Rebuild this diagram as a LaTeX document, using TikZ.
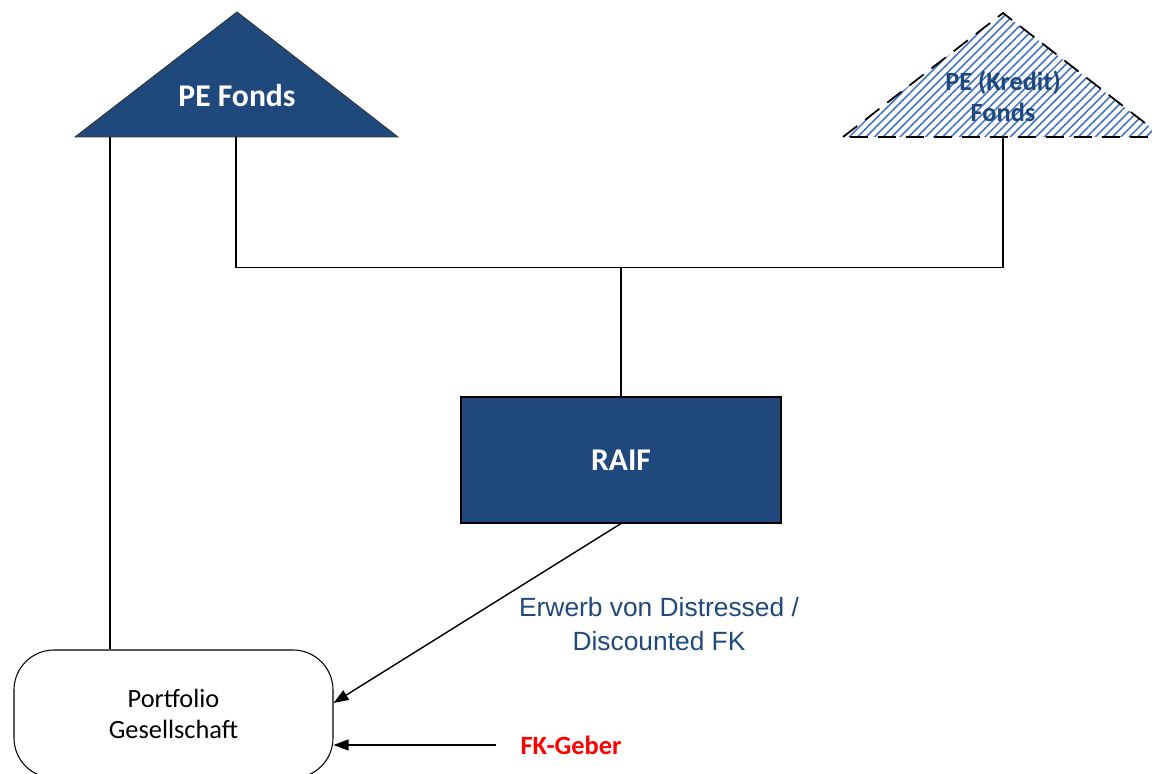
\documentclass[tikz,border=0pt]{standalone}
\usepackage{fontspec}
\setmainfont{Carlito}
\newfontfamily\arialfont{Liberation Sans}
\usetikzlibrary{arrows.meta,patterns.meta}
\definecolor{fondblue}{RGB}{31,73,125}
\definecolor{hatchblue}{RGB}{68,114,196}

\begin{document}
\begin{tikzpicture}[
  line/.style={draw=black, line width=0.8pt},
  arr/.style={line, -{Triangle[length=0.3cm, width=0.22cm]}},
  boxlabel/.style={font=\fontsize{18}{22}\selectfont\bfseries}
]

% Frame
\clip (0,0) rectangle (23.04,15.48);

% PE Fonds
\filldraw[fill=fondblue, draw=black!80, line width=0.5pt] (1.5,12.74) -- (4.74,15.24) -- (7.96,12.74) -- cycle;
\node[boxlabel, text=white] (pefonds) at (4.74,13.56) {PE Fonds};
\coordinate (peleft) at (2.2,12.74);
\coordinate (peright) at (4.72,12.74);

% PE (Kredit) Fonds
\pattern[pattern={Lines[angle=45, distance=0.12cm, line width=0.9pt]}, pattern color=hatchblue]
  (16.86,12.74) -- (20.06,15.22) -- (23.26,12.74) -- cycle;
\draw[line width=1pt, dash pattern=on 0.36cm off 0.2cm]
  (16.86,12.74) -- (20.06,15.22) -- (23.26,12.74) -- cycle;
\node[font=\fontsize{15}{17.6}\selectfont\bfseries, text=fondblue, align=center] (kredit) at (20.06,13.56) {PE (Kredit)\\Fonds};
\coordinate (kreditbase) at (20.06,12.74);

% RAIF
\node[draw, line width=0.6pt, fill=fondblue, minimum width=6.4cm, minimum height=2.52cm, boxlabel, text=white] (raif) at (12.42,6.28) {RAIF};

% Portfolio Gesellschaft
\node[draw, line width=0.6pt, rounded corners=0.8cm, minimum width=6.38cm, minimum height=2.56cm, align=center, font=\fontsize{15}{17.6}\selectfont] (port) at (3.47,1.2) {Portfolio\\Gesellschaft};

% FK-Geber
\node[font=\fontsize{15}{18}\selectfont\bfseries, text=red] (fk) at (11.42,0.58) {FK-Geber};

% Lines
\coordinate (join) at (12.42,10.13);
\draw[line] (peleft) -- (peleft |- port.north);
\draw[line] (peright) |- (join) -| (kreditbase);
\draw[line] (join) -- (raif.north);

% Arrows
\draw[arr] (raif.south) -- ([yshift=0.22cm]port.east);
\draw[arr] ([xshift=-0.36cm]fk.west) -- (fk.west -| port.east);

% Label
\node[font=\arialfont\fontsize{15}{19.3}\selectfont, text=fondblue, align=center] (erwerb) at (13.18,3.0) {Erwerb von Distressed /\\Discounted FK};

\end{tikzpicture}
\end{document}
